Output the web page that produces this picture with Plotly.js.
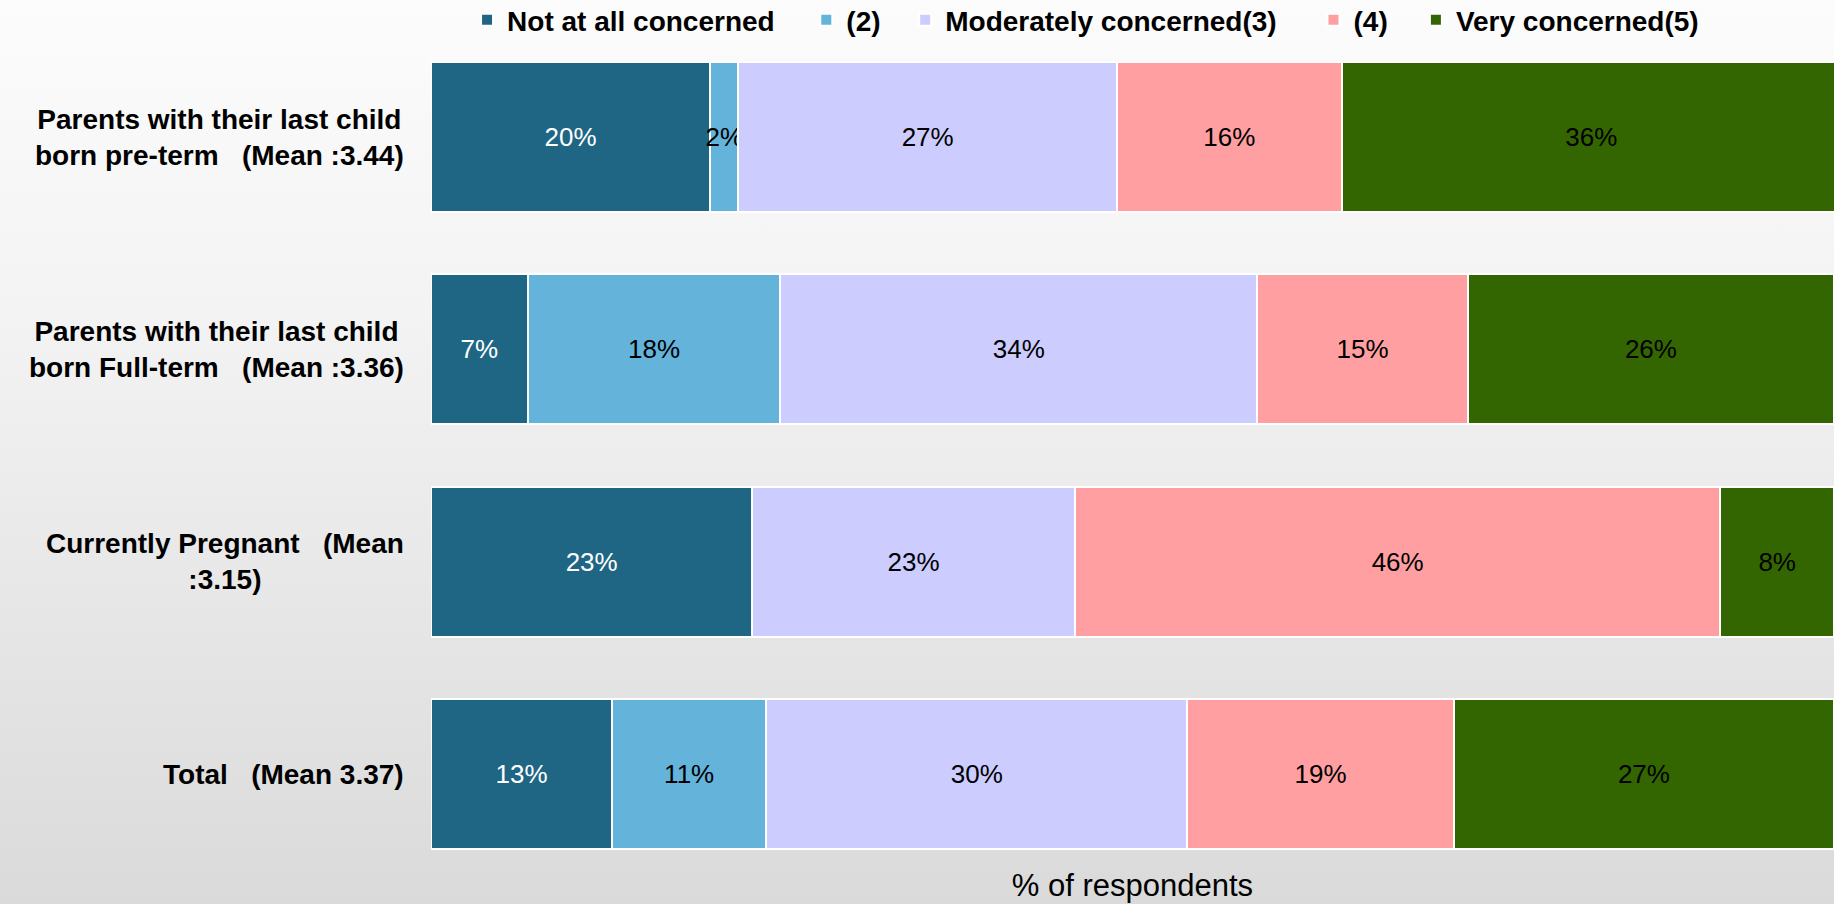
<!DOCTYPE html>
<html>
<head>
<meta charset="utf-8">
<script src="https://cdn.plot.ly/plotly-3.0.1.min.js"></script>
<style>
  html, body { margin: 0; padding: 0; }
  body { width: 1834px; height: 904px; background: linear-gradient(to bottom, #fcfcfc 0%, #f3f3f3 35%, #dadada 100%); overflow: hidden; }
  #chart { width: 1834px; height: 904px; }
</style>
</head>
<body>
<div id="chart"></div>
<script>
// ---- data ----
const categories = [
  "Parents with their last child<br>born pre-term\u00a0\u00a0\u00a0(Mean :3.44)",
  "Parents with their last child<br>born Full-term\u00a0\u00a0\u00a0(Mean :3.36)",
  "Currently Pregnant\u00a0\u00a0\u00a0(Mean<br>:3.15)",
  "Total\u00a0\u00a0\u00a0(Mean 3.37)"
];
const seriesNames = ["Not at all concerned", "(2)", "Moderately concerned(3)", "(4)", "Very concerned(5)"];
const notAtAll   = [19.9, 6.9, 22.9, 12.9];
const two        = [2.0, 18.0, null, 11.0];
const moderately = [27.0, 34.0, 23.0, 30.0];
const four       = [16.0, 15.0, 46.0, 19.0];
const very       = [35.6, 26.1, 8.1, 27.1];
const axisTitle = "% of respondents";

// ---- styles ----
const colors = ["#1F6584", "#63B3DA", "#CCCCFF", "#FF9FA2", "#336600"];
const textColors = ["#ffffff", "#000000", "#000000", "#000000", "#000000"];
const legendX = [0.0257, 0.2675, 0.3380, 0.6290, 0.7020];
const seriesValues = [notAtAll, two, moderately, four, very];
const FONT = "Liberation Sans, Arial, sans-serif";

const traces = seriesValues.map((vals, i) => ({
  type: "bar",
  orientation: "h",
  name: seriesNames[i],
  legend: i === 0 ? "legend" : "legend" + (i + 1),
  y: categories,
  x: vals,
  marker: { color: colors[i], line: { color: "#ffffff", width: 2 } },
  width: 0.707,
  texttemplate: "%{x:.0f}%",
  textposition: "inside",
  insidetextanchor: "middle",
  textangle: 0,
  textfont: { family: FONT, size: 26, color: textColors[i] },
  hoverinfo: "skip"
}));

const annotations = categories.map(c => ({
  xref: "paper", yref: "y",
  x: -0.018, y: c,
  xanchor: "right", yanchor: "middle",
  align: "center",
  text: c,
  showarrow: false,
  font: { family: FONT, size: 28, color: "#000000", weight: "bold" }
}));

const layout = {
  width: 1834, height: 904,
  paper_bgcolor: "rgba(0,0,0,0)",
  plot_bgcolor: "rgba(0,0,0,0)",
  barmode: "stack",
  margin: { l: 431, r: 0, t: 40, b: 42, pad: 0, autoexpand: false },
  uniformtext: { mode: "show", minsize: 26 },
  showlegend: true,
  xaxis: {
    range: [0, 100],
    showticklabels: false,
    showgrid: false,
    zeroline: false,
    showline: false,
    ticks: "",
    fixedrange: true,
    automargin: false,
    title: { text: axisTitle, standoff: 12, font: { family: FONT, size: 31, color: "#000000" } }
  },
  yaxis: {
    type: "category",
    range: [3.4144, -0.4568],
    showticklabels: false,
    showgrid: false,
    zeroline: false,
    showline: false,
    ticks: "",
    fixedrange: true,
    automargin: false
  },
  annotations: annotations,
  font: { family: FONT, color: "#000000" }
};

legendX.forEach((lx, i) => {
  const key = i === 0 ? "legend" : "legend" + (i + 1);
  layout[key] = {
    orientation: "h",
    xref: "paper", yref: "container",
    x: lx, xanchor: "left",
    y: 1 - 20 / 904, yanchor: "middle",
    font: { family: FONT, size: 28, color: "#000000", weight: "bold" },
    bgcolor: "rgba(0,0,0,0)"
  };
});

Plotly.newPlot("chart", traces, layout, { displayModeBar: false, staticPlot: true });
</script>
</body>
</html>
